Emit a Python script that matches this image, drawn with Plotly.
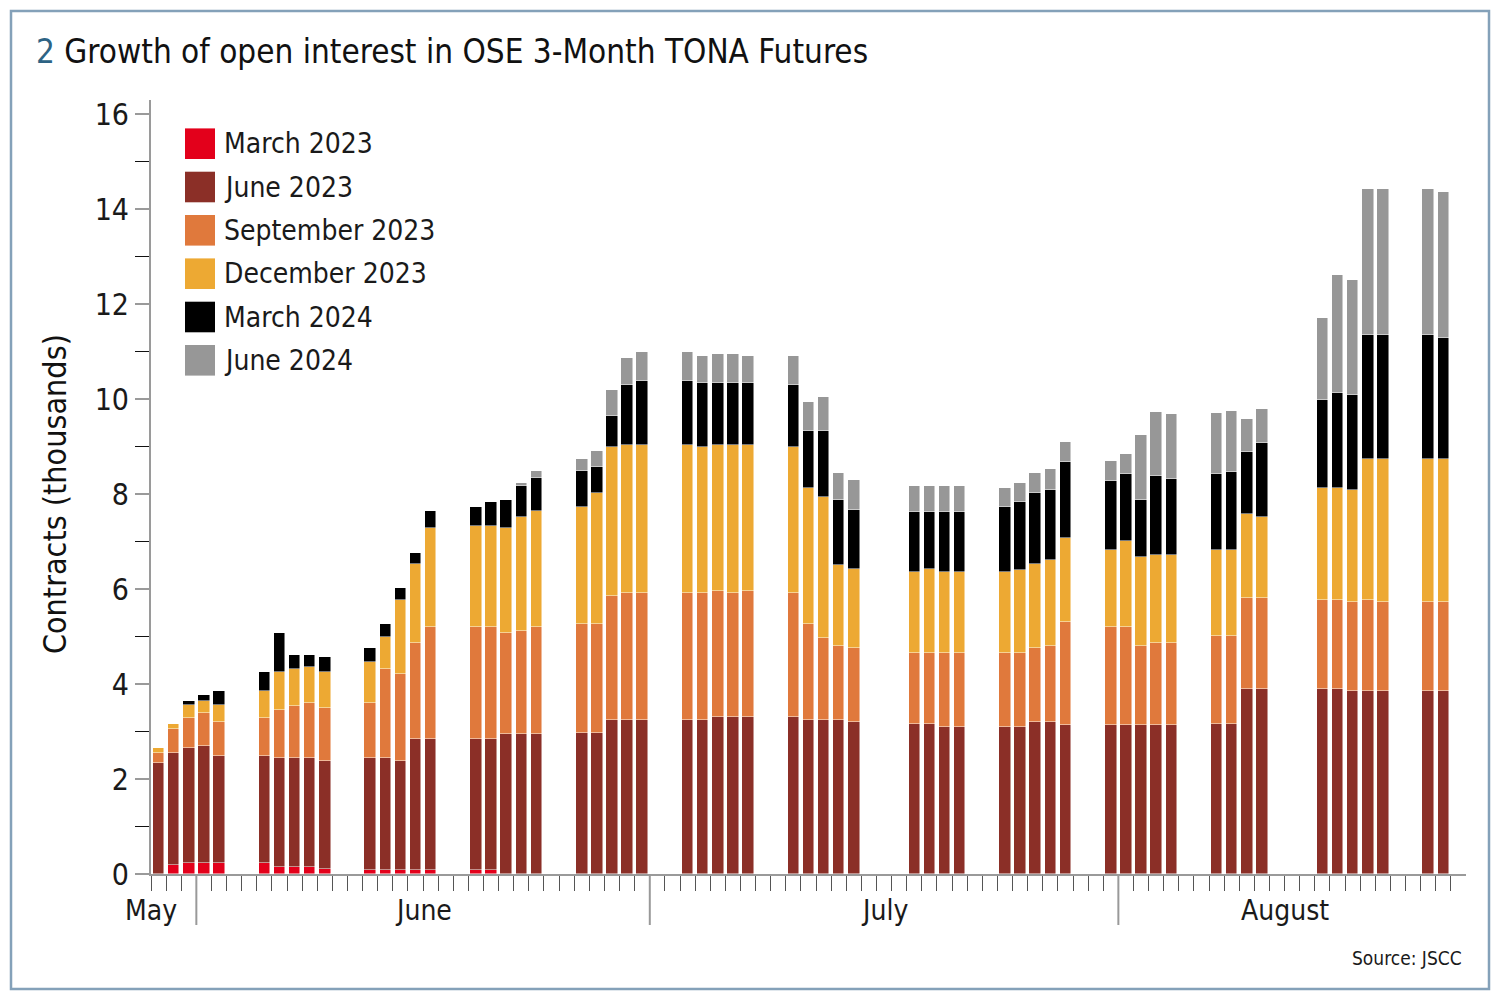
import pandas as pd
import plotly.graph_objects as go

# ---------------- data (thousands of contracts) ----------------
dates = [
    "2023-05-29", "2023-05-30", "2023-05-31", "2023-06-01", "2023-06-02",
    "2023-06-05", "2023-06-06", "2023-06-07", "2023-06-08", "2023-06-09",
    "2023-06-12", "2023-06-13", "2023-06-14", "2023-06-15", "2023-06-16",
    "2023-06-19", "2023-06-20", "2023-06-21", "2023-06-22", "2023-06-23",
    "2023-06-26", "2023-06-27", "2023-06-28", "2023-06-29", "2023-06-30",
    "2023-07-03", "2023-07-04", "2023-07-05", "2023-07-06", "2023-07-07",
    "2023-07-10", "2023-07-11", "2023-07-12", "2023-07-13", "2023-07-14",
    "2023-07-18", "2023-07-19", "2023-07-20", "2023-07-21",
    "2023-07-24", "2023-07-25", "2023-07-26", "2023-07-27", "2023-07-28",
    "2023-07-31", "2023-08-01", "2023-08-02", "2023-08-03", "2023-08-04",
    "2023-08-07", "2023-08-08", "2023-08-09", "2023-08-10",
    "2023-08-14", "2023-08-15", "2023-08-16", "2023-08-17", "2023-08-18",
    "2023-08-21", "2023-08-22",
]

march_2023 = [
    0.00, 0.19, 0.23, 0.23, 0.23,
    0.23, 0.14, 0.14, 0.14, 0.10,
    0.09, 0.09, 0.09, 0.09, 0.09,
    0.09, 0.09, 0, 0, 0,
    0, 0, 0, 0, 0,
    0, 0, 0, 0, 0,
    0, 0, 0, 0, 0,
    0, 0, 0, 0,
    0, 0, 0, 0, 0,
    0, 0, 0, 0, 0,
    0, 0, 0, 0,
    0, 0, 0, 0, 0,
    0, 0,
]
june_2023 = [
    2.34, 2.36, 2.42, 2.47, 2.26,
    2.26, 2.31, 2.31, 2.31, 2.29,
    2.36, 2.36, 2.30, 2.76, 2.76,
    2.76, 2.76, 2.95, 2.95, 2.95,
    2.96, 2.96, 3.25, 3.25, 3.25,
    3.25, 3.25, 3.30, 3.30, 3.30,
    3.30, 3.25, 3.25, 3.25, 3.20,
    3.15, 3.15, 3.10, 3.10,
    3.10, 3.10, 3.20, 3.20, 3.14,
    3.14, 3.14, 3.14, 3.14, 3.14,
    3.15, 3.15, 3.90, 3.90,
    3.90, 3.90, 3.85, 3.85, 3.85,
    3.85, 3.85,
]
september_2023 = [
    0.21, 0.50, 0.64, 0.70, 0.71,
    0.80, 1.00, 1.09, 1.16, 1.11,
    1.16, 1.86, 1.82, 2.02, 2.36,
    2.36, 2.36, 2.12, 2.17, 2.26,
    2.31, 2.31, 2.61, 2.67, 2.67,
    2.67, 2.67, 2.66, 2.62, 2.66,
    2.62, 2.02, 1.71, 1.56, 1.57,
    1.51, 1.51, 1.56, 1.56,
    1.56, 1.56, 1.57, 1.61, 2.17,
    2.07, 2.07, 1.67, 1.72, 1.72,
    1.86, 1.86, 1.91, 1.91,
    1.87, 1.87, 1.87, 1.92, 1.87,
    1.87, 1.87,
]
december_2023 = [
    0.10, 0.11, 0.26, 0.25, 0.35,
    0.57, 0.80, 0.77, 0.75, 0.75,
    0.85, 0.69, 1.55, 1.65, 2.07,
    2.11, 2.11, 2.21, 2.40, 2.43,
    2.46, 2.76, 3.13, 3.11, 3.11,
    3.11, 3.07, 3.07, 3.11, 3.07,
    3.07, 2.86, 2.97, 1.70, 1.65,
    1.70, 1.76, 1.70, 1.70,
    1.70, 1.75, 1.75, 1.81, 1.76,
    1.61, 1.81, 1.86, 1.86, 1.86,
    1.81, 1.81, 1.77, 1.71,
    2.35, 2.35, 2.36, 2.96, 3.01,
    3.01, 3.01,
]
march_2024 = [
    0.00, 0.00, 0.10, 0.11, 0.31,
    0.40, 0.82, 0.30, 0.25, 0.31,
    0.31, 0.26, 0.26, 0.25, 0.36,
    0.41, 0.51, 0.60, 0.66, 0.69,
    0.75, 0.55, 0.65, 1.26, 1.36,
    1.36, 1.35, 1.31, 1.31, 1.31,
    1.30, 1.19, 1.39, 1.36, 1.25,
    1.26, 1.20, 1.26, 1.26,
    1.37, 1.42, 1.50, 1.46, 1.60,
    1.45, 1.41, 1.20, 1.66, 1.60,
    1.61, 1.65, 1.31, 1.56,
    1.87, 2.02, 2.00, 2.63, 2.63,
    2.63, 2.56,
]
june_2024 = [
    0, 0, 0, 0, 0,
    0, 0, 0, 0, 0,
    0, 0, 0, 0, 0,
    0, 0, 0, 0.05, 0.15,
    0.26, 0.32, 0.56, 0.57, 0.61,
    0.61, 0.56, 0.62, 0.62, 0.56,
    0.61, 0.63, 0.72, 0.57, 0.62,
    0.56, 0.56, 0.56, 0.56,
    0.40, 0.40, 0.42, 0.45, 0.42,
    0.42, 0.41, 1.37, 1.36, 1.37,
    1.27, 1.28, 0.70, 0.72,
    1.72, 2.47, 2.43, 3.07, 3.07,
    3.07, 3.07,
]

series_names = ["March 2023", "June 2023", "September 2023",
                "December 2023", "March 2024", "June 2024"]
series_values = [march_2023, june_2023, september_2023,
                 december_2023, march_2024, june_2024]
series_colors = ["#e3001b", "#8b2f27", "#e0793c", "#eda933", "#000000", "#979797"]

axis_start = "2023-05-29"
axis_end = "2023-08-24"
month_labels = ["May", "June", "July", "August"]
month_label_dates = ["2023-05-29", "2023-06-16", "2023-07-16 12:00", "2023-08-12"]
month_boundaries = ["2023-06-01", "2023-07-01", "2023-08-01"]
y_ticks = [0, 2, 4, 6, 8, 10, 12, 14, 16]

# ---------------- helpers ----------------
t0 = pd.Timestamp(axis_start)


def day_pos(d):
    return (pd.Timestamp(d) - t0) / pd.Timedelta(days=1)


x_centers = [day_pos(d) + 0.5 for d in dates]
x_end = day_pos(axis_end)
last_tick = int(day_pos(dates[-1])) + 1

W, H = 1500, 1000
ML, MR, MT, MB = 151, 34, 100, 126
PW, PH = W - ML - MR, H - MT - MB


def px(x):
    return (x - ML) / PW


def py(y):
    return (H - MB - y) / PH


FONT = "Liberation Sans Narrow, Arial Narrow, DejaVu Sans Condensed, sans-serif"

fig = go.Figure()
for name, vals, col in zip(series_names, series_values, series_colors):
    fig.add_trace(go.Bar(
        x=x_centers, y=vals, name=name, width=0.76,
        marker=dict(color=col, line=dict(color="rgba(255,255,255,0.8)", width=0.6)),
        showlegend=False,
    ))

shapes = []
annotations = []

# month boundary long ticks
for mb in month_boundaries:
    xv = day_pos(mb)
    shapes.append(dict(type="line", xref="x", yref="paper", x0=xv, x1=xv,
                       y0=0, y1=py(925), line=dict(color="#999999", width=2)))

# month labels
for lab, d in zip(month_labels, month_label_dates):
    annotations.append(dict(text=lab, xref="x", yref="paper", x=day_pos(d), y=py(910),
                            xanchor="center", yanchor="middle", showarrow=False,
                            font=dict(family=FONT, size=28, color="#1a1a1a")))

# legend (manual, large swatches)
leg_y = [143.7, 187.0, 230.3, 273.7, 317.0, 360.3]
for name, col, yc in zip(series_names, series_colors, leg_y):
    shapes.append(dict(type="rect", xref="paper", yref="paper",
                       x0=px(185), x1=px(215), y0=py(yc + 15.3), y1=py(yc - 15.3),
                       fillcolor=col, line=dict(width=0)))
    annotations.append(dict(text=name, xref="paper", yref="paper", x=px(222), y=py(yc),
                            xanchor="left", yanchor="middle", showarrow=False,
                            font=dict(family=FONT, size=28, color="#1a1a1a")))

# title
annotations.append(dict(
    text="<span style='color:#2d6384'>2</span> Growth of open interest in OSE 3-Month TONA Futures",
    xref="paper", yref="paper", x=px(34), y=py(52), xanchor="left", yanchor="middle",
    showarrow=False, font=dict(family=FONT, size=33, color="#111111")))

# y axis title
annotations.append(dict(text="Contracts (thousands)", xref="paper", yref="y",
                        x=px(55), y=8, textangle=-90, xanchor="center", yanchor="middle",
                        showarrow=False, font=dict(family=FONT, size=32, color="#111111")))

# source
annotations.append(dict(text="Source: JSCC", xref="paper", yref="paper", x=px(1464), y=py(958),
                        xanchor="right", yanchor="middle", showarrow=False,
                        font=dict(family=FONT, size=19, color="#1a1a1a")))

# outer border
shapes.append(dict(type="rect", xref="paper", yref="paper",
                   x0=px(11), x1=px(1489), y0=py(989), y1=py(11),
                   line=dict(color="#84a1b9", width=2.5)))

fig.update_layout(
    width=W, height=H,
    margin=dict(l=ML, r=MR, t=MT, b=MB, pad=0),
    barmode="stack", bargap=0,
    plot_bgcolor="white", paper_bgcolor="white",
    font=dict(family=FONT, size=30, color="#1a1a1a"),
    shapes=shapes, annotations=annotations,
    xaxis=dict(range=[0, x_end], tickmode="array", tickvals=list(range(0, last_tick + 1)),
               showticklabels=False, ticks="outside", ticklen=15, tickwidth=1.2,
               tickcolor="#555555", showline=True, linecolor="#9a9a9a", linewidth=2,
               showgrid=False, zeroline=False, fixedrange=True),
    yaxis=dict(range=[0, 16.3], tickmode="array", tickvals=y_ticks,
               ticks="outside", ticklen=14, tickwidth=2, tickcolor="#9a9a9a",
               tickfont=dict(family=FONT, size=30, color="#1a1a1a"),
               minor=dict(tickmode="array", tickvals=[1, 3, 5, 7, 9, 11, 13, 15],
                          ticks="outside", ticklen=14, tickwidth=1.2, tickcolor="#111111",
                          showgrid=False),
               showline=True, linecolor="#9a9a9a", linewidth=2,
               showgrid=False, zeroline=False, fixedrange=True),
)

fig.write_html("out.html")
